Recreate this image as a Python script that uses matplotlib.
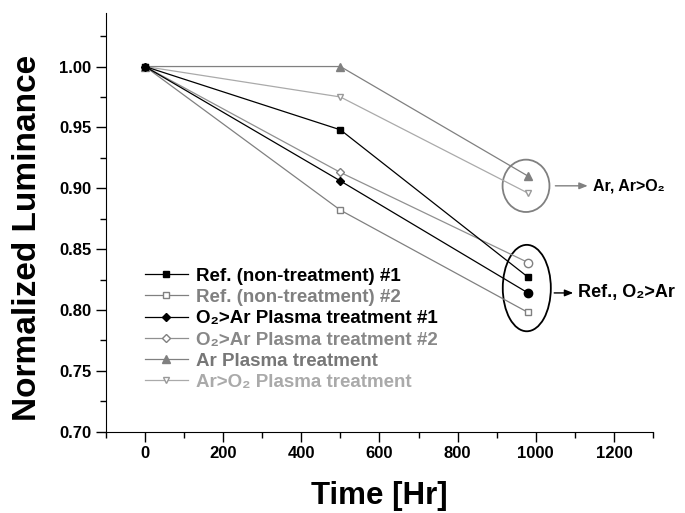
import matplotlib.pyplot as plt
from matplotlib.patches import Ellipse

plt.rcParams["font.family"] = ["Liberation Sans", "DejaVu Sans"]
plt.rcParams["font.weight"] = "bold"

time = [0, 500, 980]

ref1 = [1.000, 0.948, 0.827]
ref2 = [1.000, 0.882, 0.798]
o2ar1 = [1.000, 0.906, 0.814]
o2ar2 = [1.000, 0.913, 0.839]
ar = [1.000, 1.000, 0.910]
aro2 = [1.000, 0.975, 0.896]

labels = ["Ref. (non-treatment) #1", "Ref. (non-treatment) #2",
          "O\u2082>Ar Plasma treatment #1", "O\u2082>Ar Plasma treatment #2",
          "Ar Plasma treatment", "Ar>O\u2082 Plasma treatment"]

fig = plt.figure(figsize=(6.85, 5.13), dpi=100)
ax = fig.add_axes([0.1547, 0.1585, 0.7986, 0.8162])

ms = 5
lw = 0.9
ax.plot(time, aro2, color="#aaaaaa", lw=lw, marker="v", ms=ms, mfc="white", mec="#999999", label=labels[5])
ax.plot(time, ar, color="#808080", lw=lw, marker="^", ms=ms + 1, mfc="#808080", mec="#808080", label=labels[4])
ax.plot(time, ref2, color="#808080", lw=lw, marker="s", ms=ms, mfc="white", mec="#808080", label=labels[1])
ax.plot(time, o2ar2, color="#909090", lw=lw, marker="D", ms=ms - 1, mfc="white", mec="#808080",
        markevery=[0, 1], label=labels[3])
ax.plot(time[-1:], o2ar2[-1:], ls="none", marker="o", ms=ms + 1, mfc="white", mec="#808080")
ax.plot(time, o2ar1, color="black", lw=lw, marker="D", ms=ms - 1, mfc="black", mec="black",
        markevery=[0, 1], label=labels[2])
ax.plot(time[-1:], o2ar1[-1:], ls="none", marker="o", ms=ms + 1, mfc="black", mec="black")
ax.plot(time, ref1, color="black", lw=lw, marker="s", ms=ms, mfc="black", mec="black", label=labels[0])

ax.set_xlim(-100, 1300)
ax.set_ylim(0.70, 1.044)
ax.set_xticks([0, 200, 400, 600, 800, 1000, 1200])
ax.set_xticks(range(-100, 1301, 100), minor=True)
ax.set_yticks([0.70, 0.75, 0.80, 0.85, 0.90, 0.95, 1.00])
ax.set_yticks([0.725, 0.775, 0.825, 0.875, 0.925, 0.975, 1.025], minor=True)
ax.yaxis.set_major_formatter(plt.FormatStrFormatter("%.2f"))
ax.tick_params(which="major", direction="out", length=7, width=1, labelsize=12)
ax.tick_params(which="minor", direction="out", length=4, width=1)
for s in ["top", "right"]:
    ax.spines[s].set_visible(False)

ax.set_xlabel("Time [Hr]", fontsize=22.5, fontweight="bold", labelpad=14)
ax.set_ylabel("Normalized Luminance", fontsize=24, fontweight="bold")
ax.yaxis.set_label_coords(-0.115, 0.463)

# legend in the order of the reference
handles, labs = ax.get_legend_handles_labels()
order = [labs.index(l) for l in labels]
leg = ax.legend([handles[i] for i in order], [labs[i] for i in order], loc="upper left",
                bbox_to_anchor=(0.04, 0.432), frameon=False, fontsize=13.5, handlelength=2.3,
                handletextpad=0.43, labelspacing=0.22)
text_colors = ["black", "#808080", "black", "#888888", "#777777", "#aaaaaa"]
for t, c in zip(leg.get_texts(), text_colors):
    t.set_color(c)

# group markers
ax.add_patch(Ellipse((975, 0.902), 120, 0.043, fill=False, ec="#808080", lw=1.3))
ax.add_patch(Ellipse((977, 0.818), 123, 0.071, fill=False, ec="black", lw=1.3))

ax.annotate("Ar, Ar>O\u2082", xy=(1140, 0.902), xytext=(1146, 0.902), va="center", ha="left",
            fontsize=11.5, fontweight="bold", annotation_clip=False)
ax.annotate("", xy=(1140, 0.902), xytext=(1043, 0.902), annotation_clip=False,
            arrowprops=dict(arrowstyle="-|>,head_length=0.5,head_width=0.2", color="#808080", lw=1))
ax.annotate("Ref., O\u2082>Ar", xy=(1103, 0.814), xytext=(1107, 0.814), va="center", ha="left",
            fontsize=13, fontweight="bold", annotation_clip=False)
ax.annotate("", xy=(1103, 0.814), xytext=(1040, 0.814), annotation_clip=False,
            arrowprops=dict(arrowstyle="-|>,head_length=0.5,head_width=0.2", color="black", lw=1))

plt.savefig("out.png", dpi=100)
